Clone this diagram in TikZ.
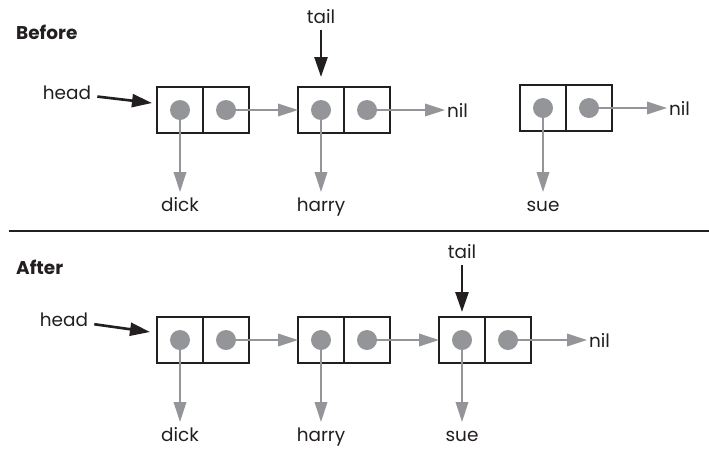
\documentclass[tikz,border=0pt]{standalone}
\usepackage{fontspec}
\setmainfont{Poppins}
\usepackage{tikz}
\usetikzlibrary{arrows.meta,positioning}
\definecolor{ptrgray}{RGB}{147,149,152}
\definecolor{ink}{RGB}{35,31,32}
\tikzset{
  cell/.style={draw=ink, line width=1.2pt, minimum size=0.92cm, inner sep=0pt, outer sep=0pt},
  ptr/.style={draw=ptrgray, line width=1.1pt, -{Triangle[length=0.4cm,width=0.25cm]}},
  ref/.style={draw=ink, line width=1.5pt, -{Triangle[length=0.4cm,width=0.26cm]}},
  word/.style={text=ink, font=\fontsize{10.5}{12}\selectfont},
  val/.style={word, anchor=north, text height=1.4ex, text depth=0.3ex},
  title/.style={text=ink, anchor=west, font=\fontsize{10.5}{12}\selectfont\bfseries},
}

\begin{document}
\begin{tikzpicture}
            \useasboundingbox (0,0) rectangle (14.18,-9);
            \node[title] (before) at (0.2,-0.64) {Before};
            \node[cell] (b1car) at (3.6,-2.2) {};
            \node[cell, right=0pt of b1car] (b1cdr) {};
            \node[cell] (b2car) at (6.42,-2.2) {};
            \node[cell, right=0pt of b2car] (b2cdr) {};
            \node[cell] (b3car) at (10.86,-2.16) {};
            \node[cell, right=0pt of b3car] (b3cdr) {};
            \fill[ptrgray] (b1car) circle (0.2) (b1cdr) circle (0.2) (b2car) circle (0.2) (b2cdr) circle (0.2) (b3car) circle (0.2) (b3cdr) circle (0.2);
            \node[val] (bdick) at (3.6,-3.84) {dick};
            \node[val] (bharry) at (6.42,-3.84) {harry};
            \node[val] (bsue) at (10.86,-3.84) {sue};
            \node[word, anchor=west, inner sep=1pt] (bnil1) at (8.9,-2.2) {nil};
            \node[word, anchor=west, inner sep=1pt] (bnil2) at (13.34,-2.16) {nil};
            \node[word] (btail) at (6.42,-0.34) {tail};
            \node[word] (bhead) at (1.34,-1.86) {head};
            \coordinate (bhp) at (3.04,-2.06);
            \draw[ptr] (b1car.center) -- (bdick);
            \draw[ptr] (b1cdr.center) -- (b2car);
            \draw[ptr] (b2car.center) -- (bharry);
            \draw[ptr] (b2cdr.center) -- (bnil1);
            \draw[ptr] (b3car.center) -- (bsue);
            \draw[ptr] (b3cdr.center) -- (bnil2);
            \draw[ref, shorten >=0.2cm] (btail) -- (b2car.north);
            \draw[ref] (bhead) -- (bhp);

            \draw[ink, line width=1.1pt] (0.18,-4.62) -- (14.18,-4.62);

            \node[title] (after) at (0.2,-5.34) {After};
            \node[cell] (a1car) at (3.6,-6.8) {};
            \node[cell, right=0pt of a1car] (a1cdr) {};
            \node[cell] (a2car) at (6.42,-6.8) {};
            \node[cell, right=0pt of a2car] (a2cdr) {};
            \node[cell] (a3car) at (9.24,-6.8) {};
            \node[cell, right=0pt of a3car] (a3cdr) {};
            \fill[ptrgray] (a1car) circle (0.2) (a1cdr) circle (0.2) (a2car) circle (0.2) (a2cdr) circle (0.2) (a3car) circle (0.2) (a3cdr) circle (0.2);
            \node[val] (adick) at (3.6,-8.44) {dick};
            \node[val] (aharry) at (6.42,-8.44) {harry};
            \node[val] (asue) at (9.24,-8.44) {sue};
            \node[word, anchor=west, inner sep=1pt] (anil) at (11.74,-6.8) {nil};
            \node[word] (atail) at (9.24,-5.04) {tail};
            \node[word] (ahead) at (1.28,-6.4) {head};
            \coordinate (ahp) at (3.0,-6.64);
            \draw[ptr] (a1car.center) -- (adick);
            \draw[ptr] (a1cdr.center) -- (a2car);
            \draw[ptr] (a2car.center) -- (aharry);
            \draw[ptr] (a2cdr.center) -- (a3car);
            \draw[ptr] (a3car.center) -- (asue);
            \draw[ptr] (a3cdr.center) -- (anil);
            \draw[ref, shorten >=0.1cm] (atail) -- (a3car.north);
            \draw[ref] (ahead) -- (ahp);
        \end{tikzpicture}
\end{document}
